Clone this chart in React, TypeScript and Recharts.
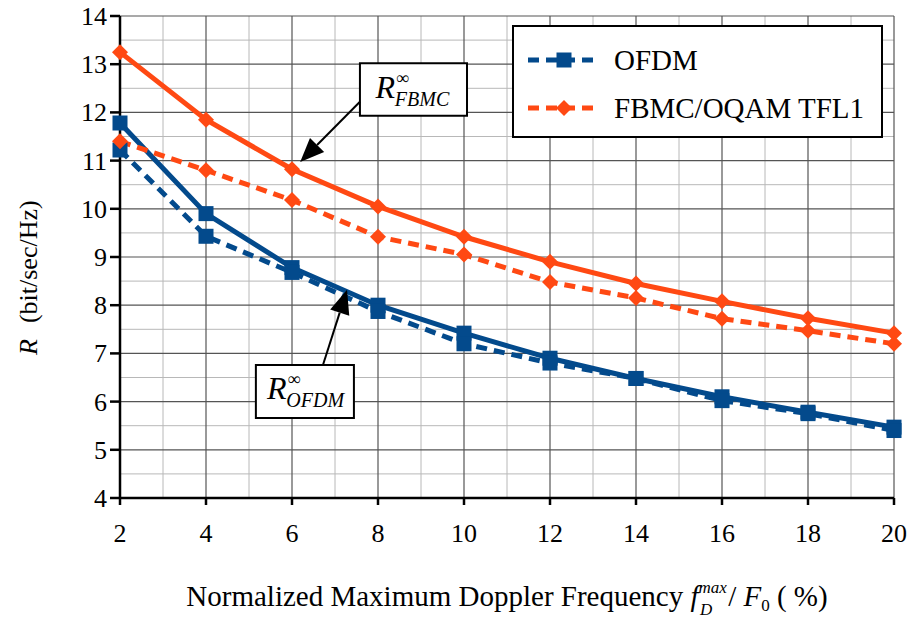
import React from 'react'
import {
  LineChart,
  Line,
  XAxis,
  YAxis,
  CartesianGrid,
  Legend,
  ReferenceArea,
  ReferenceLine,
} from 'recharts'

// doppler spread in % of subcarrier spacing
const dopplerPct = [2, 4, 6, 8, 10, 12, 14, 16, 18, 20]

// rates in bit/sec/Hz
const ofdmSim = [11.22, 9.43, 8.68, 7.87, 7.2, 6.8, 6.48, 6.02, 5.75, 5.4]
const ofdmAsym = [11.78, 9.9, 8.78, 8.0, 7.42, 6.9, 6.48, 6.1, 5.78, 5.47]
const fbmcSim = [11.4, 10.8, 10.18, 9.42, 9.05, 8.48, 8.15, 7.72, 7.47, 7.2]
const fbmcAsym = [13.25, 11.85, 10.82, 10.05, 9.42, 8.9, 8.45, 8.08, 7.73, 7.42]

const xTicks = [2, 4, 6, 8, 10, 12, 14, 16, 18, 20]
const xMinor = [3, 5, 7, 9, 11, 13, 15, 17, 19]
const yTicks = [4, 5, 6, 7, 8, 9, 10, 11, 12, 13, 14]
const yMinor = [4.5, 5.5, 6.5, 7.5, 8.5, 9.5, 10.5, 11.5, 12.5, 13.5]

const legendOrder = ['ofdmSim', 'fbmcSim']

const data = dopplerPct.map((x, i) => ({
  x,
  ofdmSim: ofdmSim[i],
  ofdmAsym: ofdmAsym[i],
  fbmcSim: fbmcSim[i],
  fbmcAsym: fbmcAsym[i],
}))

const BLUE = '#034a8c'
const ORANGE = '#ff4913'
const FONT = "'Liberation Serif', serif"

const Square = (props: any) => {
  const { cx, cy } = props
  if (cx == null || cy == null) return null
  return <rect x={cx - 7.5} y={cy - 7.5} width={15} height={15} fill={BLUE} />
}

const Diamond = (props: any) => {
  const { cx, cy } = props
  if (cx == null || cy == null) return null
  const r = 8
  return <polygon points={`${cx},${cy - r} ${cx + r},${cy} ${cx},${cy + r} ${cx - r},${cy}`} fill={ORANGE} />
}

const Arrow = (props: any) => {
  const { x1, y1, x2, y2 } = props
  if (x1 == null) return null
  const ang = Math.atan2(y2 - y1, x2 - x1)
  const len = 24
  const w = 10
  const bx = x2 - len * Math.cos(ang)
  const by = y2 - len * Math.sin(ang)
  const px = -Math.sin(ang) * w
  const py = Math.cos(ang) * w
  return (
    <g>
      <line x1={x1} y1={y1} x2={bx} y2={by} stroke="#000" strokeWidth={2} />
      <polygon points={`${x2},${y2} ${bx + px},${by + py} ${bx - px},${by - py}`} fill="#000" />
    </g>
  )
}

const rLabel = (sub: string) => (p: any) => {
  const vb = p.viewBox
  if (!vb) return null
  const cx = vb.x + vb.width / 2
  const cy = vb.y + vb.height / 2
  return (
    <text x={cx - 38} y={cy + 8} style={{ fontFamily: FONT }} fill="#000">
      <tspan fontSize={32} fontStyle="italic">R</tspan>
      <tspan fontSize={18} dx={1} dy={-14}>∞</tspan>
      <tspan fontSize={20} fontStyle="italic" dx={-14} dy={22}>{sub}</tspan>
    </text>
  )
}

const YTick = (p: any) => (
  <text x={p.x} y={p.y} dy={9} textAnchor="end" style={{ fontFamily: FONT, fontSize: 26 }} fill="#000">
    {p.payload.value}
  </text>
)

const XTick = (p: any) => (
  <text x={p.x} y={p.y} dy={21} textAnchor="middle" style={{ fontFamily: FONT, fontSize: 26 }} fill="#000">
    {p.payload.value}
  </text>
)

const LegendBox = (props: any) => {
  const items = (props.payload || [])
    .filter((p: any) => legendOrder.includes(p.dataKey))
    .sort((a: any, b: any) => legendOrder.indexOf(a.dataKey) - legendOrder.indexOf(b.dataKey))
  return (
    <div
      style={{
        width: 367,
        height: 109,
        border: '2px solid #000',
        background: '#fff',
        fontFamily: FONT,
        fontSize: 29,
        boxSizing: 'content-box',
      }}
    >
      {items.map((it: any, i: number) => (
        <div key={i} style={{ display: 'flex', alignItems: 'center', height: 48, marginTop: i === 0 ? 9 : 0 }}>
          <svg width={86} height={24} style={{ marginLeft: 14 }}>
            <line x1={0} y1={12} x2={72} y2={12} stroke={it.color} strokeWidth={5} strokeDasharray="11 7" />
            {it.dataKey === 'ofdmSim' ? (
              <rect x={28.5} y={4.5} width={15} height={15} fill={it.color} />
            ) : (
              <polygon points="36,4 44,12 36,20 28,12" fill={it.color} />
            )}
          </svg>
          <span style={{ color: '#000', lineHeight: 1 }}>{it.value}</span>
        </div>
      ))}
    </div>
  )
}

const XTitle = (p: any) => {
  const vb = p.viewBox
  const cx = vb.x + vb.width / 2
  return (
    <text x={cx} y={606} textAnchor="middle" style={{ fontFamily: FONT, fontSize: 29 }} fill="#000">
      <tspan>Normalized Maximum Doppler Frequency </tspan>
      <tspan fontStyle="italic">f</tspan>
      <tspan fontStyle="italic" fontSize={17} dy={-13}>max</tspan>
      <tspan fontStyle="italic" fontSize={17} dx={-27} dy={22}>D</tspan>
      <tspan dy={-9} dx={16}>/</tspan>
      <tspan fontStyle="italic"> F</tspan>
      <tspan fontSize={17} dy={5}>0</tspan>
      <tspan dy={-5}> ( %)</tspan>
    </text>
  )
}

const YTitle = (p: any) => {
  const vb = p.viewBox
  const yStart = vb.y + vb.height / 2 + 98
  return (
    <text
      x={37}
      y={yStart}
      transform={`rotate(-90, 37, ${yStart})`}
      textAnchor="start"
      style={{ fontFamily: FONT, fontSize: 26 }}
      fill="#000"
    >
      <tspan fontStyle="italic">R</tspan>
      <tspan dx={16}>(bit/sec/Hz)</tspan>
    </text>
  )
}

export default function App() {
  return (
    <div style={{ position: 'absolute', left: 0, top: 0, background: '#fff', fontFamily: FONT }}>
      <LineChart width={913} height={621} data={data} margin={{ top: 16, right: 19, left: 0, bottom: 0 }}>
        <CartesianGrid
          stroke="#b8b8b8"
          strokeWidth={1}
          verticalValues={xMinor}
          horizontalValues={yMinor}
        />
        <CartesianGrid
          stroke="#555"
          strokeWidth={1.2}
          verticalValues={xTicks}
          horizontalValues={yTicks}
        />
        <XAxis
          dataKey="x"
          type="number"
          domain={[2, 20]}
          ticks={xTicks}
          height={123}
          tickSize={7}
          tickMargin={16}
          tick={<XTick />}
          axisLine={{ stroke: '#000', strokeWidth: 2.5 }}
          tickLine={{ stroke: '#000', strokeWidth: 2.5 }}
          label={<XTitle />}
        />
        <YAxis
          type="number"
          domain={[4, 14]}
          ticks={yTicks}
          width={120}
          tickSize={10}
          tickMargin={3}
          tick={<YTick />}
          axisLine={{ stroke: '#000', strokeWidth: 2.5 }}
          tickLine={{ stroke: '#000', strokeWidth: 2.5 }}
          label={<YTitle />}
        />
        <Line
          dataKey="ofdmAsym"
          stroke={BLUE}
          strokeWidth={5}
          dot={<Square />}
          legendType="none"
          isAnimationActive={false}
        />
        <Line
          dataKey="ofdmSim"
          name="OFDM"
          stroke={BLUE}
          strokeWidth={5}
          strokeDasharray="11 7"
          dot={<Square />}
          isAnimationActive={false}
        />
        <Line
          dataKey="fbmcAsym"
          stroke={ORANGE}
          strokeWidth={5}
          dot={<Diamond />}
          legendType="none"
          isAnimationActive={false}
        />
        <Line
          dataKey="fbmcSim"
          name="FBMC/OQAM TFL1"
          stroke={ORANGE}
          strokeWidth={5}
          strokeDasharray="11 7"
          dot={<Diamond />}
          isAnimationActive={false}
        />
        <ReferenceLine
          segment={[{ x: 7.58, y: 12.22 }, { x: 6.19, y: 10.97 }]}
          shape={<Arrow />}
          ifOverflow="visible"
        />
        <ReferenceLine
          segment={[{ x: 6.72, y: 6.76 }, { x: 7.28, y: 8.32 }]}
          shape={<Arrow />}
          ifOverflow="visible"
        />
        <ReferenceArea
          x1={7.58}
          x2={10.07}
          y1={11.93}
          y2={13.02}
          fill="#fff"
          fillOpacity={1}
          stroke="#000"
          strokeWidth={2}
          ifOverflow="visible"
          label={rLabel('FBMC')}
        />
        <ReferenceArea
          x1={5.16}
          x2={7.44}
          y1={5.66}
          y2={6.76}
          fill="#fff"
          fillOpacity={1}
          stroke="#000"
          strokeWidth={2}
          ifOverflow="visible"
          label={rLabel('OFDM')}
        />
        <Legend
          layout="horizontal"
          verticalAlign="middle"
          align="center"
          content={<LegendBox />}
          wrapperStyle={{ position: 'absolute', left: 512, top: 25, width: 371, height: 113 }}
        />
      </LineChart>
    </div>
  )
}
